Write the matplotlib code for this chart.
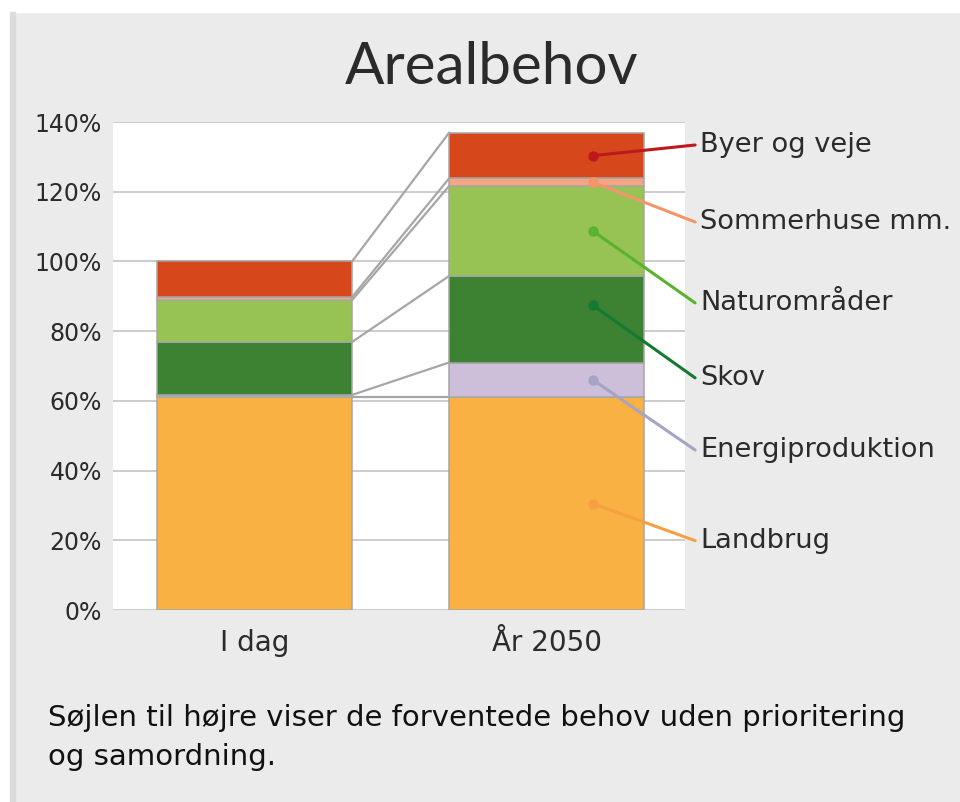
import numpy as np
import matplotlib
matplotlib.use("Agg")
import matplotlib.pyplot as plt
from matplotlib.patches import Rectangle

plt.rcParams["font.family"] = ["DejaVu Sans"]

# data (procent af areal)
kategorier = ["I dag", "År 2050"]
serier = ["Landbrug", "Energiproduktion", "Skov", "Naturområder", "Sommerhuse mm.", "Byer og veje"]
landbrug = [61.0, 61.0]
energi = [0.7, 10.0]
skov = [15.2, 24.8]
natur = [12.0, 25.8]
sommerhuse = [0.9, 2.2]
byer = [10.2, 13.1]
yticks = [0, 20, 40, 60, 80, 100, 120, 140]

# label-positioner i højre side (y i procent)
label_y = [19.9, 45.9, 66.6, 88.1, 111.3, 133.4]

fills = ["#F8B142", "#CDBFDA", "#3D8233", "#97C355", "#F4A582", "#D6481C"]
leaders = ["#F7A043", "#A4A4C4", "#137A32", "#5AB22F", "#F4956B", "#C0171C"]
BG = "#EBEBEB"; INK = "#2b2b2b"; EDGE = "#A6A6A6"

vals = np.array([landbrug, energi, skov, natur, sommerhuse, byer])
x = np.arange(len(kategorier))
w = 0.668

fig = plt.figure(figsize=(9.6, 8.02), dpi=100)
fig.patch.set_facecolor(BG)
# hvid kant top/venstre som i screenshot
fig.patches.append(Rectangle((0, 1 - 12/802), 1, 12/802, transform=fig.transFigure, color="white", zorder=0))
fig.patches.append(Rectangle((0, 0), 10/960, 1, transform=fig.transFigure, color="white", zorder=0))
fig.patches.append(Rectangle((10/960, 0), 5/960, 1 - 12/802, transform=fig.transFigure, color="#DCDCDC", zorder=0))

ax = fig.add_axes([113/960, 1 - 610/802, 572/960, 488/802])
ax.set_facecolor("white")
ax.set_xlim(-0.4846, 1.474)
ax.set_ylim(0, 140)

bottom = np.zeros(len(kategorier))
tops = []
for v, c in zip(vals, fills):
    ax.bar(x, v, w, bottom=bottom, color=c, edgecolor=EDGE, linewidth=1.1, zorder=3)
    bottom = bottom + v
    tops.append(bottom.copy())

# serielinjer mellem søjlerne
for t in tops:
    ax.plot([x[0] + w/2, x[1] - w/2], [t[0], t[1]], color=EDGE, lw=1.6, zorder=2)

# label-streger med prikker
cum = np.cumsum(vals[:, 1])
starts = cum - vals[:, 1]
for i, name in enumerate(serier):
    mid = starts[i] + vals[i, 1] / 2
    if name == "Skov":
        mid += 4  # prikken sidder lidt højt i originalen
    xd = 1.159
    ax.plot([xd, 1.5086], [mid, label_y[i]], color=leaders[i], lw=2.2, zorder=5, clip_on=False,
            solid_capstyle="round")
    ax.plot(xd, mid, "o", color=leaders[i], ms=6.5, zorder=6, clip_on=False)
    ax.text(1.526, label_y[i], name, fontsize=19.6, color=INK, va="center", ha="left")

ax.set_yticks(yticks)
ax.set_yticklabels([f"{t}%" for t in yticks], fontsize=17, color=INK)
ax.set_xticks(x)
ax.set_xticklabels(kategorier, fontsize=20, color=INK)
ax.tick_params(axis="both", length=0, pad=8)
ax.tick_params(axis="x", pad=14)
ax.yaxis.grid(True, color="#C8C8C8", lw=1.3, zorder=0)
ax.set_axisbelow(True)
for s in ax.spines.values():
    s.set_visible(False)

fig.text(492/960, 1 - 68/802, "Arealbehov", fontsize=42, color=INK, ha="center", va="center",
         family=["Lato", "DejaVu Sans"])
fig.text(48/960, 1 - 718/802, "Søjlen til højre viser de forventede behov uden prioritering",
         fontsize=21, color="#111111", ha="left", va="center")
fig.text(48/960, 1 - 757/802, "og samordning.", fontsize=21, color="#111111", ha="left", va="center")

fig.savefig("out.png", dpi=100, facecolor=BG)
